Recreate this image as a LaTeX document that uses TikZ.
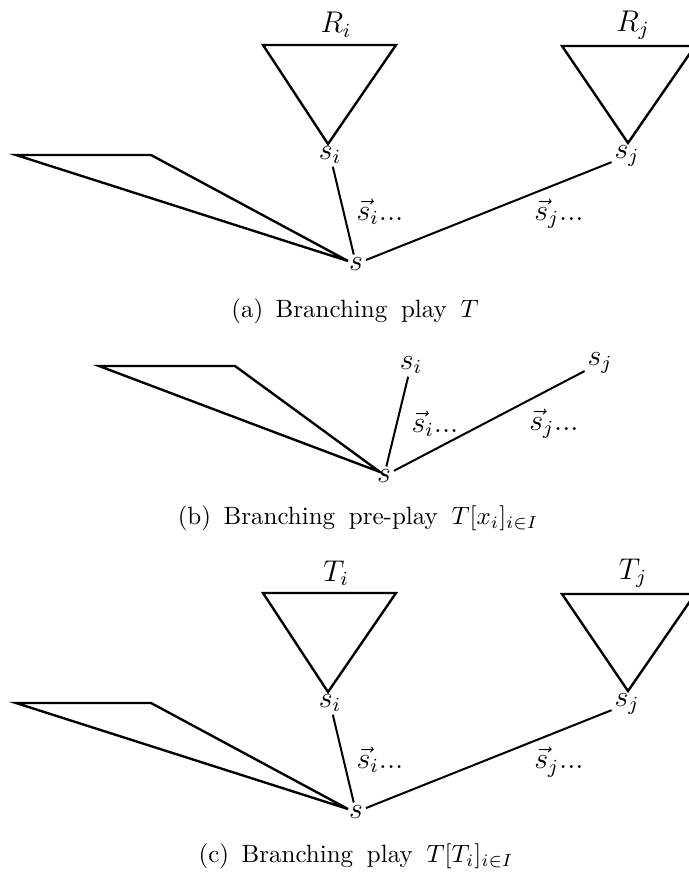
\documentclass[tikz,border=0pt]{standalone}
\usepackage{amsmath}
\newcommand{\capspace}{\spaceskip=5.5pt\relax}
\begin{document}
\begin{tikzpicture}[x=0.4pt,y=-0.4pt,
  tri/.style={line width=0.95pt},
  edg/.style={line width=0.8pt},
  lbl/.style={inner sep=1pt,font=\large},
  captxt/.style={inner sep=0pt,font=\normalsize}]
\useasboundingbox (0,0) rectangle (688,877);
% ---------- (a) ----------
\node[lbl] (Ri) at (336,25) {$R_i$};
\node[lbl] (Rj) at (633,25) {$R_j$};
\draw[tri] (263,45) coordinate (ra1) -- (396,45) coordinate (ra2) -- (328,144) coordinate (ra3) -- cycle;
\draw[tri] (562,46) coordinate (rb1) -- (695,46) coordinate (rb2) -- (628,143) coordinate (rb3) -- cycle;
\node[lbl] (asi) at (330,155) {$s_i$};
\node[lbl] (asj) at (627,156) {$s_j$};
\node[lbl] (as) at (356,264) {$s$};
\coordinate (aL1) at (16,155);
\coordinate (aL2) at (151,155);
\coordinate (aL3) at (348,261);
\draw[tri] (aL1) -- (aL2) -- (aL3) -- cycle;
\draw[edg] (asi) -- (as);
\draw[edg] (as) -- (asj);
\node[lbl] (avi) at (380,212) {$\vec{s}_i...$};
\node[lbl] (avj) at (559,214) {$\vec{s}_j...$};
\node[captxt] (capa) at (355,311) {\capspace (a)\enspace Branching play $T$};
% ---------- (b) ----------
\coordinate (bL1) at (99,366);
\coordinate (bL2) at (235,366);
\coordinate (bL3) at (380,472);
\draw[tri] (bL1) -- (bL2) -- (bL3) -- cycle;
\node[lbl] (bs) at (384,476) {$s$};
\node[lbl] (bsi) at (411,365) {$s_i$};
\node[lbl] (bsj) at (600,363) {$s_j$};
\draw[edg] (bsi) -- (bs);
\draw[edg] (bs) -- (bsj);
\node[lbl] (bvi) at (435,424) {$\vec{s}_i...$};
\node[lbl] (bvj) at (554,424) {$\vec{s}_j...$};
\node[captxt] (capb) at (358,518) {\capspace (b)\enspace Branching pre-play $T[x_i]_{i\in I}$};
% ---------- (c) ----------
\node[lbl] (Ti) at (336,573) {$T_i$};
\node[lbl] (Tj) at (633,573) {$T_j$};
\draw[tri] (263,593) coordinate (ca1) -- (396,593) coordinate (ca2) -- (328,692) coordinate (ca3) -- cycle;
\draw[tri] (562,594) coordinate (cb1) -- (695,594) coordinate (cb2) -- (628,691) coordinate (cb3) -- cycle;
\node[lbl] (csi) at (330,703) {$s_i$};
\node[lbl] (csj) at (627,704) {$s_j$};
\node[lbl] (cs) at (356,812) {$s$};
\coordinate (cL1) at (16,703);
\coordinate (cL2) at (151,703);
\coordinate (cL3) at (348,809);
\draw[tri] (cL1) -- (cL2) -- (cL3) -- cycle;
\draw[edg] (csi) -- (cs);
\draw[edg] (cs) -- (csj);
\node[lbl] (cvi) at (380,760) {$\vec{s}_i...$};
\node[lbl] (cvj) at (559,762) {$\vec{s}_j...$};
\node[captxt] (capc) at (356,856) {\capspace (c)\enspace Branching play $T[T_i]_{i\in I}$};
\end{tikzpicture}
\end{document}
